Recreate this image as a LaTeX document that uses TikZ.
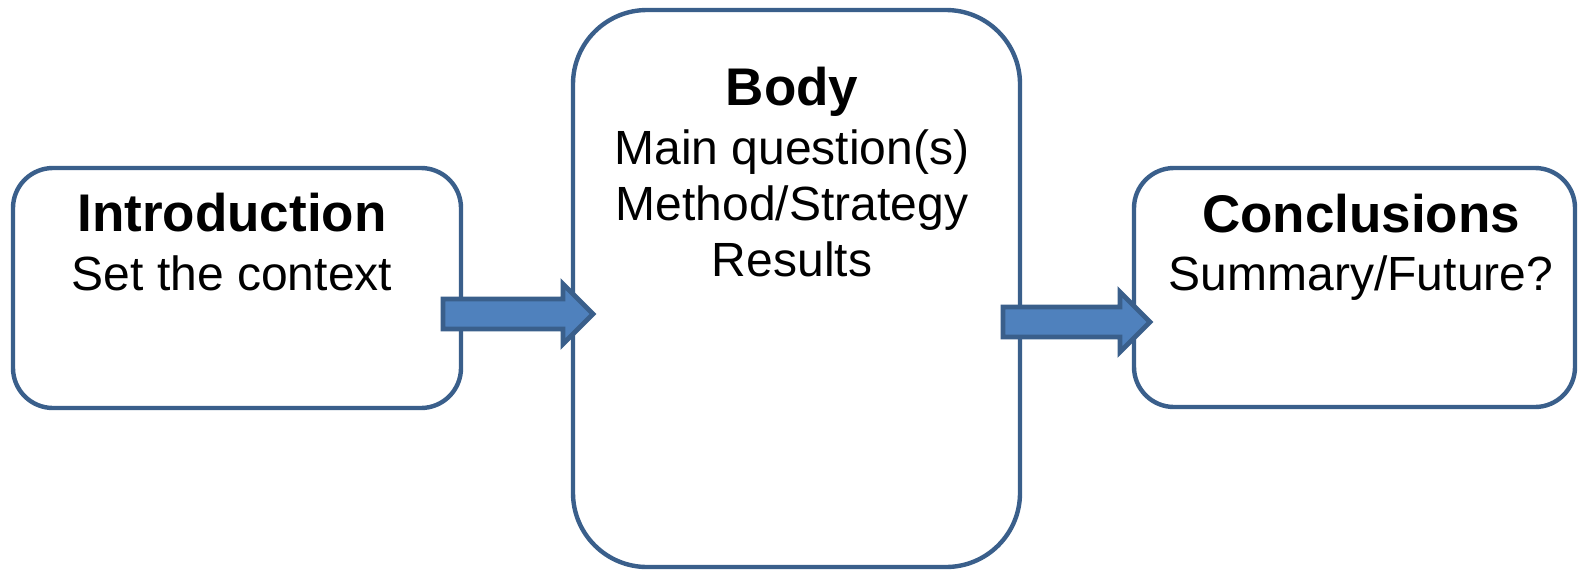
\documentclass[tikz,border=0pt]{standalone}
\usepackage{fontspec}
\setmainfont{Liberation Sans}
\usepackage{tikz}
\usetikzlibrary{calc}
\definecolor{boxline}{HTML}{3A5F8B}
\definecolor{arrowfill}{HTML}{4F81BD}
\tikzset{
  box/.style={draw=boxline,line width=2.2pt,fill=white},
  title/.style={anchor=base,font=\fontsize{26.5}{28}\selectfont\bfseries},
  line/.style={anchor=base,font=\fontsize{24}{28}\selectfont},
  fatarrow/.style={draw=boxline,line width=2.4pt,fill=arrowfill,line join=miter}
}
\begin{document}
\begin{tikzpicture}[x=0.5pt,y=-0.5pt]
\useasboundingbox (0,0) rectangle (1578,574);

\node (intro) at (237,288)[box,rounded corners=20pt,minimum width=224pt,minimum height=120pt] {};
\node (body) at (796.5,288.5)[box,rounded corners=37pt,minimum width=223.5pt,minimum height=278.5pt] {};
\node (concl) at (1354.5,287.5)[box,rounded corners=20pt,minimum width=220.5pt,minimum height=119.5pt] {};

\node (introtitle) at (232,231)[title] {Introduction};
\node (introtext) at (232,290)[line] {Set the context};
\node (bodytitle) at (792,105)[title] {Body};
\node (bodytexta) at (792,164)[line] {Main question(s)};
\node (bodytextb) at (792,220)[line] {Method/Strategy};
\node (bodytextc) at (792,276)[line] {Results};
\node (concltitle) at (1361,232)[title] {Conclusions};
\node (concltext) at (1361,290)[line] {Summary/Future?};

\coordinate (a1) at ([yshift=-13pt]intro.east -| 443,0);
\coordinate (b1) at (a1 -| 593,0);
\coordinate (a2) at (1003,322);
\coordinate (b2) at (1150,322);
\draw [fatarrow] ($(a1)+(0,-15)$) -- ($(b1)+(-30,-15)$) -- ($(b1)+(-30,-30)$) -- (b1) -- ($(b1)+(-30,30)$) -- ($(b1)+(-30,15)$) -- ($(a1)+(0,15)$) -- cycle;
\draw [fatarrow] ($(a2)+(0,-15)$) -- ($(b2)+(-30,-15)$) -- ($(b2)+(-30,-30)$) -- (b2) -- ($(b2)+(-30,30)$) -- ($(b2)+(-30,15)$) -- ($(a2)+(0,15)$) -- cycle;
\end{tikzpicture}
\end{document}
